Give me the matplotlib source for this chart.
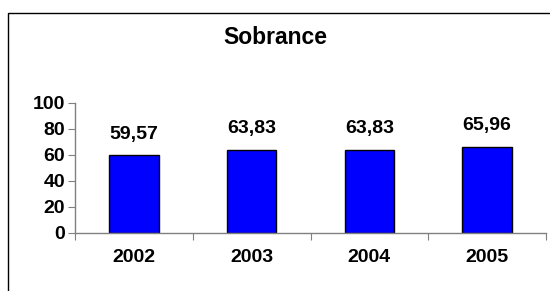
import matplotlib
matplotlib.use('Agg')
import matplotlib.pyplot as plt
from matplotlib.patches import Rectangle

years  = ['2002', '2003', '2004', '2005']
values = [59.57, 63.83, 63.83, 65.96]
labels = ['59,57', '63,83', '63,83', '65,96']
yticks = [0, 20, 40, 60, 80, 100]

plt.rcParams['font.family'] = ['Liberation Sans', 'DejaVu Sans']
plt.rcParams['font.weight'] = 'bold'

W, H = 550, 291
fig = plt.figure(figsize=(W / 100, H / 100), dpi=100)

# outer chart frame, clipped at right and bottom like the reference
fig.patches.append(Rectangle((8 / W, -0.1), 1.2, 1.1 - 12.5 / H, transform=fig.transFigure,
                             fill=False, edgecolor='black', linewidth=1.0))

ax = fig.add_axes([75 / W, (H - 232.7) / H, (546 - 75) / W, 130 / H])
x = range(len(years))
ax.bar(x, values, width=0.42, color='#0000FF', edgecolor='black', linewidth=1.0)
for xi, v, lab in zip(x, values, labels):
    ax.annotate(lab, (xi, v), xytext=(0, 9), textcoords='offset points',
                ha='center', va='bottom', fontsize=14, fontweight='bold')

ax.set_xlim(-0.5, len(years) - 0.5)
ax.set_ylim(0, 100)
ax.set_yticks(yticks)
ax.set_yticklabels([str(t) for t in yticks], fontsize=14, fontweight='bold')
ax.set_xticks([i - 0.5 for i in range(len(years) + 1)], minor=False)
ax.set_xticklabels([])
ax.set_xticks(list(x), minor=True)
ax.set_xticklabels(years, minor=True, fontsize=14, fontweight='bold')
ax.tick_params(axis='x', which='major', length=5, color='#808080', direction='out')
ax.tick_params(axis='x', which='minor', length=0, pad=12)
ax.tick_params(axis='y', length=5, color='#808080', pad=2)
for s in ('top', 'right'):
    ax.spines[s].set_visible(False)
for s in ('left', 'bottom'):
    ax.spines[s].set_color('#808080')
    ax.spines[s].set_linewidth(1.0)

fig.text(275 / W, 1 - 37 / H, 'Sobrance', ha='center', va='center',
         fontsize=16.5, fontweight='bold')

fig.savefig('out.png', dpi=100)
